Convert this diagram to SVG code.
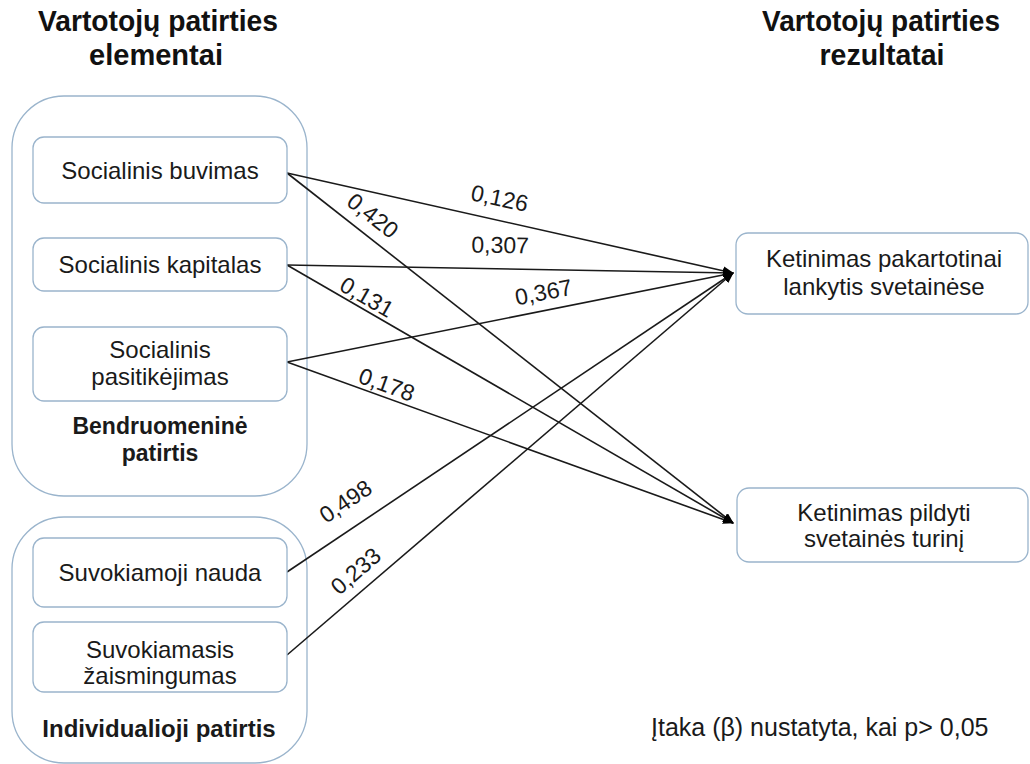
<svg xmlns="http://www.w3.org/2000/svg" width="1030" height="764" viewBox="0 0 1030 764">
  <style>
    .group { fill: #ffffff; stroke: #9ab4cc; stroke-width: 1.3; }
    .box { fill: #ffffff; stroke: #9ab4cc; stroke-width: 1.3; }
    .t { font-family: "Liberation Sans", Arial, sans-serif; font-size: 24px; fill: #1a1a1a; text-anchor: middle; }
    .b { font-weight: bold; font-size: 23px; }
    .title { font-family: "Liberation Sans Narrow", "Liberation Sans", Arial, sans-serif; font-size: 30px; font-weight: bold; fill: #111; text-anchor: middle; }
    .w { font-family: "Liberation Sans", Arial, sans-serif; font-size: 23px; fill: #1a1a1a; text-anchor: middle; }
    .edge { stroke: #1a1a1a; stroke-width: 1.6; fill: none; marker-end: url(#arrow); }
  </style>
  <defs>
    <marker id="arrow" markerUnits="userSpaceOnUse" markerWidth="11" markerHeight="9" refX="10" refY="4.5" orient="auto">
      <path d="M0,0 L11,4.5 L0,9 z" fill="#000"/>
    </marker>
  </defs>

  <rect width="1030" height="764" fill="#ffffff"/>

  <!-- column headings -->
  <g id="heading-left">
    <text class="title" x="158" y="31" textLength="240" lengthAdjust="spacingAndGlyphs">Vartotojų patirties</text>
    <text class="title" x="156" y="65" textLength="134" lengthAdjust="spacingAndGlyphs">elementai</text>
  </g>
  <g id="heading-right">
    <text class="title" x="881" y="31" textLength="238" lengthAdjust="spacingAndGlyphs">Vartotojų patirties</text>
    <text class="title" x="882" y="65" textLength="125" lengthAdjust="spacingAndGlyphs">rezultatai</text>
  </g>

  <!-- grouping frames -->
  <g id="group-community">
    <rect class="group" x="12" y="96" width="295" height="400" rx="52"/>
    <text class="t b" x="160" y="434">Bendruomeninė</text>
    <text class="t b" x="160" y="461">patirtis</text>
  </g>
  <g id="group-individual">
    <rect class="group" x="12" y="517" width="295" height="246" rx="52"/>
    <text class="t b" x="159" y="737" style="font-size:24px">Individualioji patirtis</text>
  </g>

  <!-- connectors -->
  <g id="connectors">
    <line class="edge" x1="287" y1="173" x2="733" y2="273"/>
    <line class="edge" x1="287" y1="173" x2="733" y2="523"/>
    <line class="edge" x1="287" y1="265" x2="733" y2="273"/>
    <line class="edge" x1="287" y1="265" x2="733" y2="523"/>
    <line class="edge" x1="287" y1="362" x2="733" y2="273"/>
    <line class="edge" x1="287" y1="362" x2="733" y2="523"/>
    <line class="edge" x1="287" y1="572" x2="733" y2="273"/>
    <line class="edge" x1="287" y1="655" x2="733" y2="273"/>

    <text class="w" transform="translate(498,206) rotate(12)">0,126</text>
    <text class="w" transform="translate(368,222) rotate(38)">0,420</text>
    <text class="w" transform="translate(500,253) rotate(1)">0,307</text>
    <text class="w" transform="translate(363,304) rotate(30)">0,131</text>
    <text class="w" transform="translate(545,300) rotate(-11)">0,367</text>
    <text class="w" transform="translate(384,392) rotate(20)">0,178</text>
    <text class="w" transform="translate(350,508) rotate(-34)">0,498</text>
    <text class="w" transform="translate(361,577) rotate(-41)">0,233</text>
  </g>

  <!-- source nodes -->
  <g id="node-socialinis-buvimas">
    <rect class="box" x="33" y="137" width="254" height="66" rx="11"/>
    <text class="t" x="160" y="179">Socialinis buvimas</text>
  </g>
  <g id="node-socialinis-kapitalas">
    <rect class="box" x="33" y="238" width="254" height="53" rx="11"/>
    <text class="t" x="160" y="273">Socialinis kapitalas</text>
  </g>
  <g id="node-socialinis-pasitikejimas">
    <rect class="box" x="33" y="327" width="254" height="74" rx="11"/>
    <text class="t" x="160" y="358">Socialinis</text>
    <text class="t" x="160" y="385">pasitikėjimas</text>
  </g>
  <g id="node-suvokiamoji-nauda">
    <rect class="box" x="33" y="538" width="254" height="69" rx="11"/>
    <text class="t" x="160" y="581">Suvokiamoji nauda</text>
  </g>
  <g id="node-suvokiamasis-zaismingumas">
    <rect class="box" x="33" y="622" width="254" height="70" rx="11"/>
    <text class="t" x="160" y="658">Suvokiamasis</text>
    <text class="t" x="160" y="684">žaismingumas</text>
  </g>

  <!-- outcome nodes -->
  <g id="node-ketinimas-lankytis">
    <rect class="box" x="736" y="233" width="292" height="81" rx="12"/>
    <text class="t" x="884" y="267">Ketinimas pakartotinai</text>
    <text class="t" x="884" y="295">lankytis svetainėse</text>
  </g>
  <g id="node-ketinimas-pildyti">
    <rect class="box" x="737" y="488" width="291" height="74" rx="12"/>
    <text class="t" x="884" y="521">Ketinimas pildyti</text>
    <text class="t" x="884" y="547">svetainės turinį</text>
  </g>

  <!-- footnote -->
  <text id="note" x="651" y="736" font-family="Liberation Sans, Arial, sans-serif" font-size="25" fill="#1a1a1a">Įtaka (β) nustatyta, kai p&gt; 0,05</text>
</svg>
